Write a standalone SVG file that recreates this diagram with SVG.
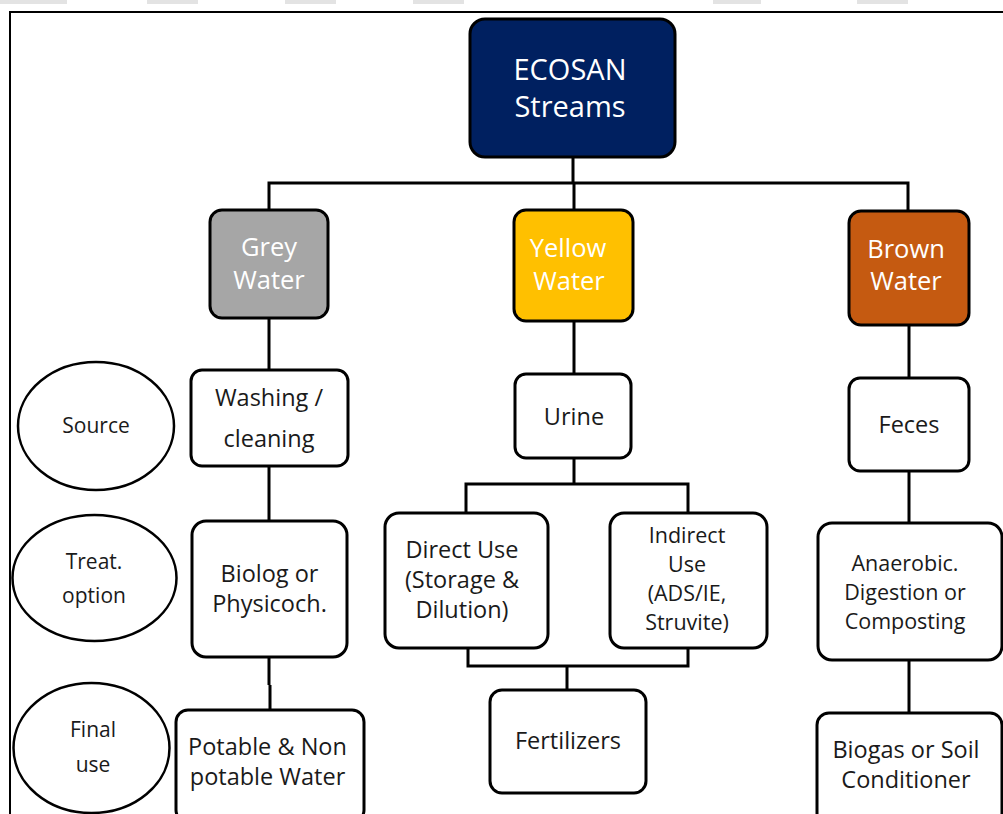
<svg xmlns="http://www.w3.org/2000/svg" width="1003" height="814" viewBox="0 0 1003 814">
<style>
.box{stroke:#000;stroke-width:3;}
.wb{fill:#fff;stroke:#000;stroke-width:3;}
.ell{fill:#fff;stroke:#000;stroke-width:2.5;}
.t{font-family:"Open Sans","Noto Sans",sans-serif;font-size:23.5px;fill:#1a1a1a;text-anchor:middle;}
.s{font-size:21.5px;}
.lt{font-family:"Open Sans","Noto Sans",sans-serif;font-size:21px;fill:#1a1a1a;text-anchor:middle;}
.wt{font-family:"Open Sans","Noto Sans",sans-serif;font-size:25.5px;fill:#fff;text-anchor:middle;}
.conn{fill:none;stroke:#000;stroke-width:3;}
</style>
<rect width="1003" height="814" fill="#fff"/>
<g id="topstrip" fill="#e3e3e3">
<rect x="0" y="0" width="67" height="4"/>
<rect x="147" y="0" width="51" height="4"/>
<rect x="285" y="0" width="51" height="4"/>
<rect x="413" y="0" width="51" height="4"/>
<rect x="713" y="0" width="48" height="4"/>
<rect x="857" y="0" width="51" height="4"/>
</g>
<path id="frame" d="M10,814 V12 H1003" fill="none" stroke="#000" stroke-width="2"/>
<g id="connectors">
<path class="conn" d="M573,157 V183 M269,210 V183 H908 V211 M574,183 V210"/>
<path class="conn" d="M269,318 V370 M269,466 V521 M269,657 V685 M270,685 V710"/>
<path class="conn" d="M574,321 V374 M574,458 V484 M466,513 V484 H688 V513"/>
<path class="conn" d="M468,648 V666 H688 V648 M567,666 V690"/>
<path class="conn" d="M909,325 V378 M909,471 V523 M909,660 V713"/>
</g>
<g id="ecosan"><rect class="box" x="470" y="19" width="205" height="138" rx="15" fill="#002060"/>
<text class="wt" style="font-size:29px" x="570" y="80">ECOSAN</text>
<text class="wt" style="font-size:29px" x="570" y="117">Streams</text></g>
<g id="grey"><rect class="box" x="210" y="210" width="118" height="108" rx="12" fill="#A6A6A6"/>
<text class="wt" x="269" y="256">Grey</text><text class="wt" x="269" y="289">Water</text></g>
<g id="yellow"><rect class="box" x="514" y="210" width="119" height="111" rx="12" fill="#FFC000"/>
<text class="wt" x="568" y="257">Yellow</text><text class="wt" x="569" y="290">Water</text></g>
<g id="brown"><rect class="box" x="849" y="211" width="120" height="114" rx="12" fill="#C55A11"/>
<text class="wt" x="906" y="258">Brown</text><text class="wt" x="906" y="290">Water</text></g>
<g id="source"><ellipse class="ell" cx="96" cy="426" rx="78" ry="64"/><text class="lt" x="96" y="433">Source</text></g>
<g id="treat"><ellipse class="ell" cx="94.5" cy="578" rx="82" ry="63"/><text class="lt" x="94" y="569">Treat.</text><text class="lt" x="94" y="603">option</text></g>
<g id="final"><ellipse class="ell" cx="91.5" cy="748" rx="78" ry="65"/><text class="lt" x="93" y="737">Final</text><text class="lt" x="93" y="772">use</text></g>
<g id="washing"><rect class="wb" x="191" y="370" width="157" height="96" rx="11"/>
<text class="t" x="269" y="406">Washing /</text><text class="t" x="269" y="447">cleaning</text></g>
<g id="biolog"><rect class="wb" x="192" y="521" width="155" height="136" rx="14"/>
<text class="t" x="269.5" y="582">Biolog or</text><text class="t" x="269.5" y="612">Physicoch.</text></g>
<g id="potable"><rect class="wb" x="176" y="710" width="188" height="112" rx="12"/>
<text class="t" x="267.5" y="755">Potable &amp; Non</text><text class="t" x="267.5" y="785">potable Water</text></g>
<g id="urine"><rect class="wb" x="515" y="374" width="116" height="84" rx="11"/>
<text class="t" x="574" y="425">Urine</text></g>
<g id="direct"><rect class="wb" x="385" y="513" width="163" height="135" rx="14"/>
<text class="t" x="462" y="558">Direct Use</text><text class="t" x="462" y="588">(Storage &amp;</text><text class="t" x="462" y="618">Dilution)</text></g>
<g id="indirect"><rect class="wb" x="610" y="513" width="157" height="135" rx="14"/>
<text class="t s" x="687" y="543">Indirect</text><text class="t s" x="687" y="572">Use</text><text class="t s" x="687" y="601">(ADS/IE,</text><text class="t s" x="687" y="630">Struvite)</text></g>
<g id="fertilizers"><rect class="wb" x="490" y="690" width="156" height="103" rx="12"/>
<text class="t" x="568" y="749">Fertilizers</text></g>
<g id="feces"><rect class="wb" x="849" y="378" width="120" height="93" rx="11"/>
<text class="t" x="909" y="433">Feces</text></g>
<g id="anaerobic"><rect class="wb" x="818" y="523" width="184" height="137" rx="14"/>
<text class="t s" x="905" y="571">Anaerobic.</text><text class="t s" x="905" y="600">Digestion or</text><text class="t s" x="905" y="629">Composting</text></g>
<g id="biogas"><rect class="wb" x="817" y="713" width="185" height="112" rx="12"/>
<text class="t" x="906" y="758">Biogas or Soil</text><text class="t" x="906" y="788">Conditioner</text></g>
</svg>
